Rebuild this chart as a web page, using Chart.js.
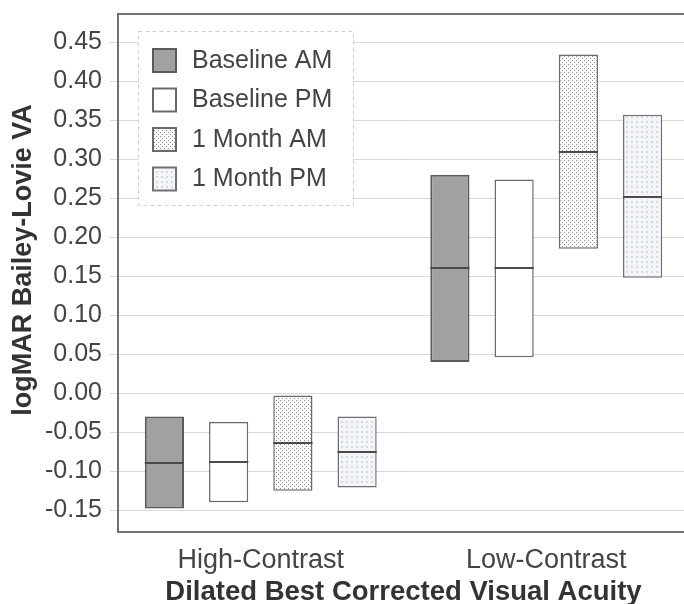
<!DOCTYPE html>
<html><head><meta charset="utf-8">
<script src="https://cdn.jsdelivr.net/npm/chart.js@4.4.1/dist/chart.umd.min.js"></script>
<style>html,body{margin:0;padding:0;background:#fff;overflow:hidden;width:684px;height:604px}
#wrap{width:690px;height:604px}</style></head>
<body><div id="wrap"><canvas id="c" width="690" height="604"></canvas></div>
<script>
const categories = ['High-Contrast', 'Low-Contrast'];
const seriesNames = ['Baseline AM', 'Baseline PM', '1 Month AM', '1 Month PM'];
const baselineAmLow = [-0.148, 0.040];
const baselineAmHigh = [-0.030, 0.280];
const baselineAmMedian = [-0.089, 0.160];
const baselinePmLow = [-0.140, 0.046];
const baselinePmHigh = [-0.037, 0.274];
const baselinePmMedian = [-0.088, 0.160];
const month1AmLow = [-0.125, 0.185];
const month1AmHigh = [-0.003, 0.434];
const month1AmMedian = [-0.064, 0.309];
const month1PmLow = [-0.121, 0.148];
const month1PmHigh = [-0.030, 0.357];
const month1PmMedian = [-0.076, 0.251];
const yTicks = [-0.15, -0.10, -0.05, 0.00, 0.05, 0.10, 0.15, 0.20, 0.25, 0.30, 0.35, 0.40, 0.45];

const lows = [baselineAmLow, baselinePmLow, month1AmLow, month1PmLow];
const highs = [baselineAmHigh, baselinePmHigh, month1AmHigh, month1PmHigh];
const medians = [baselineAmMedian, baselinePmMedian, month1AmMedian, month1PmMedian];

function makePattern(kind) {
  const t = document.createElement('canvas');
  const g = t.getContext('2d');
  if (kind === 'dots') {
    t.width = 4; t.height = 4;
    g.fillStyle = '#fafafa'; g.fillRect(0, 0, 4, 4);
    g.fillStyle = '#8a8a8a';
    g.fillRect(0, 0, 1, 1); g.fillRect(2, 2, 1, 1);
  } else if (kind === 'light') {
    t.width = 5; t.height = 5;
    g.fillStyle = '#f4f5f8'; g.fillRect(0, 0, 5, 5);
    g.fillStyle = '#d3d9e4';
    g.fillRect(1, 1, 2, 2);
  } else {
    t.width = 4; t.height = 4;
    g.fillStyle = '#a2a2a2'; g.fillRect(0, 0, 4, 4);
    g.fillStyle = '#9a9a9a'; g.fillRect(1, 0, 1, 1); g.fillRect(3, 2, 1, 1);
  }
  return g.createPattern(t, 'repeat');
}

const fills = [makePattern('gray'), '#ffffff', makePattern('dots'), makePattern('light')];
const borders = ['#5a5a5a', '#6a6a6a', '#6a6a6a', '#707070'];
const borderWidths = [2, 1.5, 1.5, 1.5];

const datasets = seriesNames.map((name, i) => ({
  label: name,
  data: lows[i].map((l, j) => [l, highs[i][j]]),
  medians: medians[i],
  backgroundColor: fills[i],
  borderColor: borders[i],
  borderWidth: borderWidths[i],
  borderSkipped: false,
  categoryPercentage: 0.9,
  barPercentage: 0.61
}));

const framePlugin = {
  id: 'frame',
  beforeDatasetsDraw(chart) {
    const {ctx, chartArea: a} = chart;
    ctx.save();
    ctx.strokeStyle = '#707070';
    ctx.lineWidth = 2;
    ctx.strokeRect(a.left, a.top, a.right - a.left, a.bottom - a.top);
    ctx.restore();
  }
};

const medianPlugin = {
  id: 'medians',
  afterDatasetsDraw(chart) {
    const {ctx} = chart;
    const y = chart.scales.y;
    ctx.save();
    ctx.strokeStyle = '#4a4a4a';
    ctx.lineWidth = 2;
    chart.data.datasets.forEach((ds, i) => {
      const meta = chart.getDatasetMeta(i);
      meta.data.forEach((bar, j) => {
        const py = Math.round(y.getPixelForValue(ds.medians[j]));
        ctx.beginPath();
        ctx.moveTo(bar.x - bar.width / 2, py);
        ctx.lineTo(bar.x + bar.width / 2, py);
        ctx.stroke();
      });
    });
    ctx.restore();
  }
};

const legendPlugin = {
  id: 'boxLegend',
  afterDatasetsDraw(chart) {
    const {ctx} = chart;
    ctx.save();
    const bx = 138, by = 31, bw = 215, bh = 174;
    ctx.fillStyle = '#ffffff';
    ctx.fillRect(bx, by, bw, bh);
    ctx.setLineDash([4, 3]);
    ctx.strokeStyle = '#d0d0d0';
    ctx.lineWidth = 1;
    ctx.strokeRect(bx + 0.5, by + 0.5, bw, bh);
    ctx.setLineDash([]);
    chart.data.datasets.forEach((ds, i) => {
      const sy = 49 + i * 39.5;
      ctx.fillStyle = ds.backgroundColor;
      ctx.fillRect(153, sy, 23, 23);
      ctx.strokeStyle = ds.borderColor;
      ctx.lineWidth = 2;
      ctx.strokeRect(153, sy, 23, 23);
      ctx.fillStyle = '#444';
      ctx.font = '25px "Liberation Sans", Arial, sans-serif';
      ctx.textAlign = 'left';
      ctx.textBaseline = 'middle';
      ctx.fillText(ds.label, 192, sy + 12);
    });
    ctx.restore();
  }
};

const yTitlePlugin = {
  id: 'yTitle',
  afterDraw(chart) {
    const {ctx} = chart;
    ctx.save();
    ctx.translate(24, 260);
    ctx.rotate(-Math.PI / 2);
    ctx.font = 'bold 27px "Liberation Sans", Arial, sans-serif';
    ctx.fillStyle = '#333';
    ctx.textAlign = 'center';
    ctx.textBaseline = 'middle';
    ctx.fillText('logMAR Bailey-Lovie VA', 0, 0);
    ctx.restore();
  }
};

Chart.defaults.font.family = '"Liberation Sans", Arial, sans-serif';

new Chart(document.getElementById('c'), {
  type: 'bar',
  data: { labels: categories, datasets },
  options: {
    responsive: false,
    animation: false,
    devicePixelRatio: 1,
    layout: { padding: { top: 14, right: 1, left: 0, bottom: 0 } },
    plugins: { legend: { display: false }, tooltip: { enabled: false } },
    events: [],
    scales: {
      x: {
        grid: { display: false },
        border: { display: false },
        ticks: { font: { size: 27 }, color: '#444', padding: 4 },
        title: { display: true, text: 'Dilated Best Corrected Visual Acuity', color: '#333',
                 font: { size: 27.5, weight: 'bold', lineHeight: 1 }, padding: { top: 0, bottom: -2 } },
        afterFit(s) { s.height = 72; s.paddingLeft = 0; s.paddingRight = 0; }
      },
      y: {
        min: -0.178,
        max: 0.486,
        afterBuildTicks(s) { s.ticks = yTicks.map(v => ({ value: v })); },
        ticks: { font: { size: 25 }, color: '#444', padding: 8, callback: v => Number(v).toFixed(2) },
        grid: { color: '#d8d8d8', lineWidth: 1, tickLength: 8, drawTicks: true },
        border: { display: false },
        afterFit(s) { s.width = 118; s.paddingTop = 0; s.paddingBottom = 0; }
      }
    }
  },
  plugins: [framePlugin, medianPlugin, legendPlugin, yTitlePlugin]
});
</script>
</body></html>
